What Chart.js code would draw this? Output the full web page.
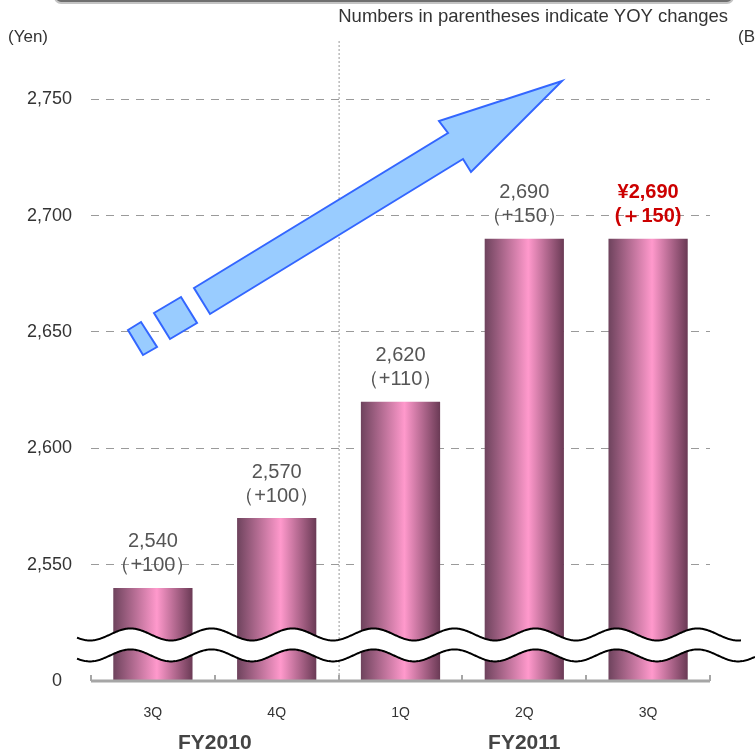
<!DOCTYPE html>
<html>
<head>
<meta charset="utf-8">
<script src="https://cdn.jsdelivr.net/npm/chart.js@4.4.0/dist/chart.umd.min.js"></script>
<style>
  html, body { margin: 0; padding: 0; background: #fff; }
  #wrap { position: relative; width: 755px; height: 752px; }
</style>
</head>
<body>
<div id="wrap"><canvas id="priceChart"></canvas></div>
<script>
// Chart data
const quarters = ['3Q', '4Q', '1Q', '2Q', '3Q'];
const unitPrices = [2540, 2570, 2620, 2690, 2690];
const yoyChanges = [100, 100, 110, 150, 150];
const yTickValues = [2500, 2550, 2600, 2650, 2700, 2750];
const fiscalYears = ['FY2010', 'FY2011'];
const fiscalYearFirst = [0, 2];
const fiscalYearLast = [1, 4];
const highlightIndex = 4;

const FONT = '"Liberation Sans", Arial, sans-serif';
const BAR_PCT = 0.64;
const BREAK_UPPER = 2520;
const BREAK_LOWER = 2511;

function barGradient(context) {
    const chart = context.chart;
    const x = chart.scales.x;
    if (!chart.chartArea || !x) return '#e88fbf';
    const xc = x.getPixelForValue(context.dataIndex);
    const w = x.width / quarters.length * BAR_PCT;
    const g = chart.ctx.createLinearGradient(xc - w / 2, 0, xc + w / 2, 0);
    g.addColorStop(0, '#6e435d');
    g.addColorStop(0.55, '#ff99cc');
    g.addColorStop(1, '#6a3a55');
    return g;
}

// decorations: heading, dotted divider, arrow
const backdrop = {
    id: 'backdrop',
    beforeDatasetsDraw(chart) {
        const ctx = chart.ctx;
        const area = chart.chartArea;
        const x = chart.scales.x;
        ctx.save();
        // grey box edge at top
        ctx.beginPath();
        ctx.roundRect(55, -20, 678, 23, 6);
        ctx.fillStyle = '#6f6f6f';
        ctx.fill();
        ctx.lineWidth = 2;
        ctx.strokeStyle = '#c4c4c4';
        ctx.stroke();

        ctx.fillStyle = '#333';
        ctx.font = '18.5px ' + FONT;
        ctx.textBaseline = 'middle';
        ctx.textAlign = 'right';
        ctx.fillText('Numbers in parentheses indicate YOY changes', 728, 17);
        ctx.textAlign = 'left';
        ctx.font = '17px ' + FONT;
        ctx.fillText('(Yen)', 8, 37);
        ctx.fillText('(Billion yen)', 738, 37);

        // dotted divider between fiscal years
        const xd = (x.getPixelForValue(fiscalYearLast[0]) + x.getPixelForValue(fiscalYearFirst[1])) / 2;
        ctx.beginPath();
        ctx.setLineDash([2, 2]);
        ctx.strokeStyle = '#999';
        ctx.lineWidth = 1;
        ctx.moveTo(xd + 0.5, area.top);
        ctx.lineTo(xd + 0.5, area.bottom);
        ctx.stroke();
        ctx.setLineDash([]);

        // upward arrow
        const shapes = [
            [[194, 288], [448, 133], [439, 121], [562, 81], [471, 172], [463, 159], [210, 314]],
            [[154, 313], [181, 297], [197, 323], [170, 339]],
            [[128, 330], [141, 322], [157, 347], [143, 355]]
        ];
        ctx.fillStyle = '#99ccff';
        ctx.strokeStyle = '#3366ff';
        ctx.lineWidth = 2;
        ctx.lineJoin = 'miter';
        shapes.forEach(pts => {
            ctx.beginPath();
            pts.forEach((p, i) => i ? ctx.lineTo(p[0], p[1]) : ctx.moveTo(p[0], p[1]));
            ctx.closePath();
            ctx.fill();
            ctx.stroke();
        });
        ctx.restore();
    },
    afterDatasetsDraw(chart) {
        const ctx = chart.ctx;
        const area = chart.chartArea;
        const x = chart.scales.x;
        const y = chart.scales.y;
        ctx.save();

        // axis break band
        const yu = y.getPixelForValue(BREAK_UPPER);
        const yl = y.getPixelForValue(BREAK_LOWER);
        const amp = 6, period = 81;
        const x0 = area.left - 14;
        const wave = (c, xx) => c + amp * Math.cos(2 * Math.PI * (xx - area.left + 1) / period);
        const xEndU = area.right + 31, xEndL = 755;
        ctx.beginPath();
        for (let xx = x0; xx <= xEndL; xx++) ctx.lineTo(xx, wave(yu, xx));
        for (let xx = xEndL; xx >= x0; xx--) ctx.lineTo(xx, wave(yl, xx));
        ctx.closePath();
        ctx.fillStyle = '#fff';
        ctx.fill();
        ctx.strokeStyle = '#000';
        ctx.lineWidth = 2;
        ctx.beginPath();
        for (let xx = x0; xx <= xEndU; xx++) ctx.lineTo(xx, wave(yu, xx));
        ctx.stroke();
        ctx.beginPath();
        for (let xx = x0; xx <= xEndL; xx++) ctx.lineTo(xx, wave(yl, xx));
        ctx.stroke();

        // x axis line with small ticks
        ctx.strokeStyle = '#a6a6a6';
        ctx.lineWidth = 3;
        ctx.beginPath();
        ctx.moveTo(area.left, area.bottom);
        ctx.lineTo(area.right, area.bottom);
        ctx.stroke();
        ctx.lineWidth = 2;
        const step = area.width / quarters.length;
        for (let i = 0; i <= quarters.length; i++) {
            const xt = Math.round(area.left + i * step);
            ctx.beginPath();
            ctx.moveTo(xt, area.bottom);
            ctx.lineTo(xt, area.bottom - 6);
            ctx.stroke();
        }

        // bar value labels
        const meta = chart.getDatasetMeta(0);
        ctx.textAlign = 'center';
        ctx.textBaseline = 'middle';
        meta.data.forEach((bar, i) => {
            const top = bar.y;
            if (i === highlightIndex) {
                ctx.fillStyle = '#cc0000';
                ctx.font = 'bold 20px ' + FONT;
                ctx.fillText('¥' + unitPrices[i].toLocaleString('en-US'), bar.x, top - 46);
                ctx.fillText('(＋' + yoyChanges[i] + ')', bar.x, top - 22);
            } else {
                ctx.fillStyle = '#555';
                ctx.font = '20px ' + FONT;
                ctx.fillText(unitPrices[i].toLocaleString('en-US'), bar.x, top - 46);
                ctx.fillText('（+' + yoyChanges[i] + '）', bar.x, top - 22);
            }
        });

        // fiscal year group labels
        ctx.fillStyle = '#444';
        ctx.font = 'bold 21px ' + FONT;
        fiscalYears.forEach((fy, k) => {
            const xc = (x.getPixelForValue(fiscalYearFirst[k]) + x.getPixelForValue(fiscalYearLast[k])) / 2;
            ctx.fillText(fy, xc, 743);
        });
        ctx.restore();
    }
};

const ctx = document.getElementById('priceChart').getContext('2d');
new Chart(ctx, {
    type: 'bar',
    data: {
        labels: quarters,
        datasets: [{
            data: unitPrices,
            backgroundColor: barGradient,
            borderWidth: 0,
            barPercentage: BAR_PCT,
            categoryPercentage: 1
        }]
    },
    options: {
        responsive: true,
        maintainAspectRatio: false,
        animation: false,
        layout: { padding: { top: 41, right: 45, left: 0, bottom: 0 } },
        plugins: {
            legend: { display: false },
            tooltip: { enabled: false }
        },
        scales: {
            x: {
                grid: { display: false },
                border: { display: false },
                ticks: { color: '#333', font: { family: FONT, size: 14 }, padding: 16 },
                afterFit(scale) { scale.height = 71; }
            },
            y: {
                min: 2500,
                max: 2775,
                afterBuildTicks(scale) {
                    scale.ticks = yTickValues.map(v => ({ value: v }));
                },
                grid: {
                    drawTicks: false,
                    color: c => (c.tick && c.tick.value === 2500) ? 'rgba(0,0,0,0)' : '#9a9a9a',
                    lineWidth: 1
                },
                border: { display: false, dash: [8, 7] },
                ticks: {
                    color: '#333',
                    font: { family: FONT, size: 18 },
                    padding: 19,
                    callback: v => v === 2500 ? '0  ' : v.toLocaleString('en-US')
                },
                afterFit(scale) { scale.width = 91; }
            }
        }
    },
    plugins: [backdrop]
});
</script>
</body>
</html>
